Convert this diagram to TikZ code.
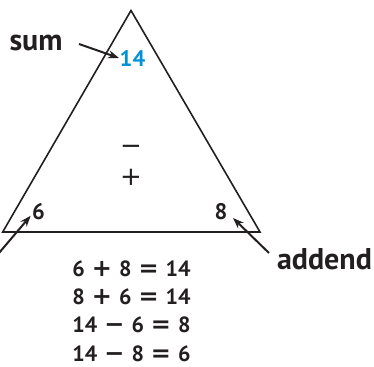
\documentclass[tikz,border=0pt]{standalone}
\usepackage{fontspec}
\setmainfont{PT Sans}
\newfontfamily\opfont{DejaVu Sans}
\usetikzlibrary{arrows.meta}
\definecolor{ink}{RGB}{35,31,32}
\definecolor{sumblue}{RGB}{0,146,214}
\newcommand\eqop[1]{\hspace{7pt}{\opfont\bfseries\fontsize{24}{24}\selectfont #1}\hspace{7pt}}
\begin{document}
\begin{tikzpicture}[x=1pt,y=-1pt,
  lbl/.style={font=\bfseries\fontsize{30}{30}\selectfont, text=ink, inner sep=0pt, anchor=base},
  num/.style={font=\bfseries\fontsize{22.5}{22.5}\selectfont, text=ink, inner sep=0.5pt, anchor=base},
  eqline/.style={font=\bfseries\fontsize{22}{22}\selectfont, text=ink, inner sep=0pt, anchor=base},
  sign/.style={font=\opfont\fontsize{26}{26}\selectfont, text=ink, inner sep=0pt, anchor=base},
  edge/.style={draw=ink, line width=1.6pt, line join=miter},
  pointer/.style={draw=ink, line width=2pt, -{Stealth[length=11pt,width=8pt]}}]
\useasboundingbox (0,0) rectangle (374,366);
\coordinate (apex) at (131,10.5);
\coordinate (bl) at (2.7,232);
\coordinate (br) at (260,232);
\draw[edge] (apex) -- (bl) -- (br) -- cycle;
% labels
\node[lbl] (sum) at (36,51) {sum};
\node[lbl] (addend) at (324.5,269) {addend};
% numbers
\node[num, text=sumblue] (n14) at (132.5,67) {14};
\node[num] (n6) at (38.5,219) {6};
\node[num] (n8) at (221,219) {8};
% signs
\node[sign] (minus) at (131,154.3) {−};
\node[sign] (plus) at (131,185.3) {+};
% equations
\node[eqline] (e1) at (131.5,276) {6\eqop{+}8\eqop{=}14};
\node[eqline] (e2) at (131.5,304.5) {8\eqop{+}6\eqop{=}14};
\node[eqline] (e3) at (131.5,332.5) {14\eqop{−}6\eqop{=}8};
\node[eqline] (e4) at (131.5,361) {14\eqop{−}8\eqop{=}6};
% pointers
\coordinate (sumtail) at (79,44);
\coordinate (lefttail) at (-1,253);
\coordinate (righttail) at (269,253);
\draw[pointer] (sumtail) -- (119,58) coordinate (sumtip);
\draw[pointer] (lefttail) -- (30.7,215.7) coordinate (lefttip);
\draw[pointer] (righttail) -- (233,218) coordinate (righttip);
\end{tikzpicture}
\end{document}
